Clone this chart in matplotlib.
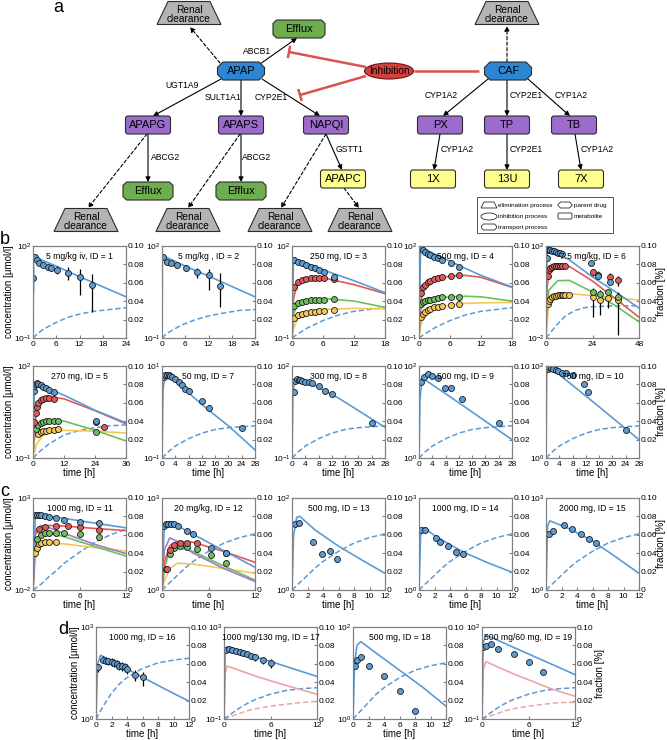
import matplotlib
matplotlib.use("Agg")
import matplotlib.pyplot as plt
import numpy as np
from matplotlib.patches import Polygon, Ellipse, FancyBboxPatch, Rectangle
from matplotlib.ticker import NullLocator

plt.rcParams['font.family'] = ['Liberation Sans', 'DejaVu Sans']
plt.rcParams['mathtext.fontset'] = 'custom'
plt.rcParams['mathtext.rm'] = 'Liberation Sans'
plt.rcParams['mathtext.it'] = 'Liberation Sans:italic'

BLUE = '#5b9bd5'
RED = '#e25858'
GREEN = '#6cbf5b'
YELLOW = '#f6c65a'
PURPLE = '#9e7ccc'
PINK = '#f2a2a8'
SPINE = '#808080'

# ---------------- data ----------------
# ID 1
id1_tm = [0, 0.15, 0.5, 2, 6, 12, 18, 24]
id1_apap_m = [0.1, 50, 44, 36, 22, 10, 4.7, 2.2]
id1_td = [0.1, 0.5, 1.0, 1.6, 2.7, 3.8, 4.6, 6.3, 9.0, 12.2, 15.3]
id1_apap = [9, 44, 35, 28, 24, 20.5, 19, 16.4, 13, 9.7, 5.3]
id1_lo = [3, 40, 31, 25, 21, 17, 15, 12, 8, 2.5, 0.7]
id1_hi = [20, 49, 39, 32, 28, 25, 23, 22, 20, 18, 12]
id1_tf = [0, 1, 2.5, 5, 8.7, 12, 15.7, 20, 24]
id1_frac = [0, 0.004, 0.009, 0.015, 0.022, 0.026, 0.029, 0.031, 0.033]

# ID 2
id2_tm = [0, 0.1, 0.3, 2, 6, 12, 18, 24]
id2_apap_m = [0.1, 25, 48, 38, 22, 10.5, 4.8, 2.2]
id2_td = [0.2, 1.3, 2.4, 3.9, 6.1, 9.1, 12.0, 15.0]
id2_apap = [43, 30, 28, 24, 19, 14, 11.2, 5.0]
id2_lo = [38, 26, 24, 20, 15, 9, 3.7, 1.0]
id2_hi = [48, 34, 32, 28, 24, 19, 18, 13]
id2_frac = [0, 0.004, 0.008, 0.014, 0.020, 0.024, 0.027, 0.030, 0.031]

# ID 3
id3_tm = [0, 0.3, 1, 2, 3.5, 6, 12, 18]
id3_apap_m = [0.1, 38, 34, 30, 25, 16.6, 7.4, 3.0]
id3_g_m = [0.1, 2, 5.5, 8, 9.3, 9.2, 5.5, 2.8]
id3_s_m = [0.1, 0.6, 1.2, 1.5, 1.75, 1.95, 1.6, 1.0]
id3_c_m = [0.1, 0.2, 0.4, 0.55, 0.7, 0.85, 0.92, 0.9]
id3_td = [0.3, 1.1, 2.0, 2.8, 3.6, 4.4, 5.2, 6.1, 8.1]
id3_apap = [35, 30, 27.7, 24, 20.5, 19, 16.5, 14, 9.7]
id3_g = [4.5, 6.5, 8.0, 8.6, 9.0, 9.2, 9.2, 9.0, 8.6]
id3_s = [1.1, 1.35, 1.5, 1.6, 1.7, 1.75, 1.8, 1.8, 1.85]
id3_c = [0.45, 0.55, 0.62, 0.66, 0.7, 0.73, 0.76, 0.78, 0.82]
id3_tf = [0, 1, 3, 6, 9, 12, 15, 18]
id3_frac = [0, 0.004, 0.011, 0.019, 0.025, 0.029, 0.031, 0.033]

# ID 4
id4_tm = [0, 0.3, 1, 3, 6, 9, 12, 18]
id4_apap_m = [0.1, 92, 80, 55, 32, 18.5, 11, 4.6]
id4_g_m = [0.1, 1.5, 4, 8, 10.5, 11, 9.5, 4.5]
id4_s_m = [0.1, 0.8, 1.4, 1.9, 2.2, 2.3, 2.2, 1.6]
id4_c_m = [0.1, 0.25, 0.5, 0.9, 1.2, 1.35, 1.4, 1.45]
id4_td = [0.3, 0.7, 1.2, 1.7, 2.2, 2.9, 3.7, 4.5, 6.2, 7.8]
id4_apap = [85, 75, 63, 56, 50, 43, 40, 35, 28, 20]
id4_g = [3, 4.5, 5.5, 6.5, 7.3, 8.2, 9, 9.6, 10.5, 11]
id4_s = [1.3, 1.5, 1.6, 1.7, 1.8, 1.9, 2.0, 2.1, 2.15, 2.2]
id4_c = [0.5, 0.6, 0.7, 0.8, 0.9, 1.0, 1.05, 1.1, 1.2, 1.25]

# ID 6
id6_tm = [0, 0.5, 1.5, 6, 12, 24, 36, 48]
id6_apap_m = [0.01, 50, 70, 45, 25, 4.5, 1.0, 0.2]
id6_g_m = [0.01, 1.5, 6, 14, 13, 3, 0.5, 0.08]
id6_s_m = [0.01, 0.2, 1.2, 3.1, 3.2, 1.0, 0.25, 0.05]
id6_c_m = [0.01, 0.05, 0.3, 0.7, 0.85, 0.7, 0.55, 0.45]
id6_td = [0.5, 1, 1.5, 2, 3, 4, 5, 6, 7, 8, 23, 27, 33]
id6_apap = [30, 65, 70, 65, 62, 58, 55, 52, 50, 45, 18, 5, 2.7]
id6_tg = [1, 1.5, 2, 3, 4, 5, 6, 7, 8, 10]
id6_g = [5, 9, 11, 12.5, 13.5, 14, 14, 14, 13.5, 13]
id6_tg2 = [24, 27, 33, 37]
id6_g2 = [7.4, 5.5, 4.5, 3.3]
id6_g2_lo = [5, 3.5, 2.5, 1.8]
id6_g2_hi = [10, 8, 7, 5]
id6_ts = [24.5, 28, 32, 37]
id6_s = [1.0, 0.8, 1.0, 0.6]
id6_tc = [1, 1.5, 2, 3, 4, 5, 6, 7, 8, 9, 10, 12]
id6_c = [0.3, 0.4, 0.5, 0.6, 0.65, 0.7, 0.72, 0.75, 0.75, 0.76, 0.76, 0.75]
id6_tc2 = [24.5, 28, 32, 37]
id6_c2 = [0.6, 0.45, 0.55, 0.45]
id6_c2_lo = [0.08, 0.1, 0.2, 0.013]
id6_c2_hi = [1.5, 1.2, 1.2, 1.0]
id6_tf = [0, 2, 5, 10, 15, 20, 24, 36, 48]
id6_frac = [0, 0.005, 0.013, 0.024, 0.030, 0.033, 0.034, 0.035, 0.035]

# ID 5
id5_tm = [0, 0.5, 1.5, 4, 8, 12, 24, 36]
id5_apap_m = [0.1, 20, 28, 22.6, 15.2, 11.2, 3.6, 1.4]
id5_g_m = [0.1, 1, 3.5, 8, 9.5, 8.5, 3.5, 1.3]
id5_s_m = [0.1, 0.4, 1.0, 1.5, 1.7, 1.6, 0.8, 0.36]
id5_c_m = [0.1, 0.15, 0.3, 0.55, 0.75, 0.8, 0.75, 0.65]
id5_td = [0.25, 0.5, 1, 1.5, 2, 3, 4, 5, 6, 8, 24.5]
id5_apap = [15, 22, 26, 27, 26, 24, 21, 19, 17, 14, 1.6]
id5_tg = [0.5, 1, 1.5, 2, 3, 4, 5, 6, 8, 24.5, 27.5]
id5_g = [1.5, 3, 4.5, 6, 7.5, 8.5, 9, 9.2, 8.5, 1.5, 1.0]
id5_ts = [1, 2, 3, 4, 5, 6, 8, 9.5, 24.5]
id5_s = [0.9, 1.2, 1.4, 1.5, 1.6, 1.6, 1.65, 1.65, 0.7]
id5_tc = [2, 3, 4, 5, 6, 8, 9.5]
id5_c = [0.6, 0.7, 0.75, 0.78, 0.8, 0.82, 0.85]
id5_tf = [0, 3, 6, 12, 18, 24, 30, 36]
id5_frac = [0, 0.008, 0.015, 0.025, 0.030, 0.033, 0.035, 0.036]

# ID 7 - 10 (28 h studies)
id7_tm = [0, 0.3, 1, 4, 8, 14, 20, 28]
id7_apap_m = [0.1, 3, 7, 4.6, 2.6, 1.1, 0.5, 0.15]
id7_td = [0.5, 1, 1.5, 2, 2.5, 3, 4, 5, 6, 7, 8, 12, 14, 24]
id7_apap = [5.8, 6.3, 6.4, 6.3, 6.1, 5.8, 5.3, 4.5, 3.8, 3.2, 2.8, 1.7, 1.2, 0.45]
id8_apap_m = [0.1, 15, 38, 30, 20, 9, 3.5, 1.0]
id8_td = [0.5, 1, 1.5, 2, 2.5, 3, 4, 5, 6, 8, 10, 12, 24]
id8_apap = [14, 32, 37, 36, 35, 33, 31, 29, 27, 22, 15, 12, 1.4]
id9_apap_m = [1, 20, 55, 39, 25, 12.6, 6.3, 2.5]
id9_td = [0.6, 1.5, 2.6, 3.9, 5.8, 7.7, 9.6, 12.8, 24]
id9_apap = [45, 57, 67, 60, 55, 33, 33, 19, 5.8]
id10_tm = [0, 0.2, 0.6, 4, 8, 14, 20, 28]
id10_apap_m = [1, 60, 100, 65, 38, 17, 7.5, 2.5]
id10_td = [0.5, 1, 1.5, 2.2, 3, 3.5, 4.8, 6, 8, 11.5, 12.5, 24]
id10_apap = [85, 95, 90, 88, 82, 78, 70, 72, 64, 40, 27, 4.1]
id28_tf = [0, 2, 4, 8, 12, 16, 20, 24, 28]
id28_frac = [0, 0.007, 0.013, 0.021, 0.027, 0.031, 0.033, 0.034, 0.035]

# ID 11
id11_tm = [0, 0.3, 1, 2, 4, 8, 12]
id11_apap_m = [0.01, 140, 120, 104, 78, 43, 24]
id11_g_m = [0.01, 10, 28, 32, 30, 22, 17]
id11_n_m = [0.01, 15, 32, 25, 12, 3, 0.95]
id11_s_m = [0.01, 3, 10, 12, 8, 2.3, 0.7]
id11_c_m = [0.01, 0.5, 2.5, 3.5, 3.2, 2, 1.3]
id11_td = [0.25, 0.5, 0.75, 1, 1.5, 2, 3, 4, 6, 8.5]
id11_apap = [120, 125, 125, 118, 110, 95, 80, 65, 50, 45]
id11_tg = [0.75, 1.5, 3, 4.5, 6, 8.5]
id11_g = [20, 28, 31, 30, 28, 18]
id11_ts = [0.5, 1, 1.5, 2, 3, 4, 6, 8.5]
id11_s = [6, 10, 12, 13, 13, 12, 11, 8]
id11_tc = [0.3, 0.5, 0.75, 1, 1.5, 2, 3]
id11_c = [1, 2, 3, 3.5, 4, 4.2, 4.3]
id12_tf = [0, 1, 2, 3, 4, 6, 8, 10, 12]
id11_frac = [0, 0.006, 0.014, 0.021, 0.029, 0.041, 0.052, 0.060, 0.066]

# ID 12
id12_apap_m = [1, 150, 170, 124, 66, 19, 5.5]
id12_g_m = [1, 8, 28, 38, 36, 18, 8]
id12_n_m = [1, 20, 50, 38, 16, 5, 1.9]
id12_s_m = [1, 5, 20, 25, 18, 6, 2.1]
id12_c_m = [1, 2, 5, 7.5, 7, 5, 3.5]
id12_td = [0.2, 0.5, 0.8, 1.2, 1.6, 2, 3.2, 4, 6.3, 8.3]
id12_apap = [120, 140, 145, 145, 140, 125, 86, 69, 24, 16]
id12_tg = [0.6, 1, 1.5, 2.3, 3.2, 4.5, 8.3]
id12_g = [5, 20, 30, 35, 35, 33, 16]
id12_ts = [0.5, 1, 1.5, 2.3, 3.2, 4.5, 6.3, 8.3]
id12_s = [5, 15, 24, 28, 25, 22, 13.5, 7.4]
id12_frac = [0, 0.008, 0.016, 0.024, 0.031, 0.042, 0.051, 0.057, 0.061]

# ID 13 - 15
id13_tm = [0, 0.2, 0.6, 1, 3, 6, 9, 12]
id13_apap_m = [1, 15, 38, 40, 20, 9, 4.5, 2.3]
id13_td = [0.4, 0.9, 2.7, 3.9, 4.9, 5.8]
id13_apap = [27, 28, 11, 6, 7.2, 4.8]
id14_tm = [0, 0.2, 0.6, 2, 4, 6, 9, 12]
id14_apap_m = [1, 60, 110, 60, 30, 16, 7.5, 3.8]
id14_td = [0.3, 0.8, 2.2, 2.7, 3.7, 4.8, 5.7]
id14_apap = [92, 90, 51, 38, 28, 18, 14.5]
id15_tm = [0, 0.2, 0.5, 1, 3, 6, 9, 12]
id15_apap_m = [1, 120, 180, 160, 100, 40, 12, 3.5]
id15_td = [0.4, 0.9, 2.3, 3.4, 4.5, 5.6, 6.5]
id15_apap = [69, 86, 135, 100, 69, 45, 33]

# ID 16
id16_tm = [0, 0.2, 0.6, 2, 4, 6, 9, 12]
id16_apap_m = [1, 60, 120, 79, 43, 23, 9.2, 3.8]
id16_td = [0.25, 0.9, 1.3, 1.6, 2, 2.3, 2.7, 3, 3.3, 3.7, 4, 5, 6]
id16_apap = [48, 86, 80, 75, 70, 65, 60, 55, 52, 48, 44, 28, 22.6]
id16_lo = [35, 65, 60, 56, 52, 48, 44, 40, 37, 34, 30, 17, 12]
id16_hi = [60, 110, 105, 100, 95, 88, 82, 76, 72, 68, 62, 40, 35]
id16_frac = [0, 0.015, 0.028, 0.038, 0.045, 0.055, 0.061, 0.064, 0.066]

# ID 17
id17_tm = [0, 0.15, 0.4, 2, 4, 6, 9, 12]
id17_apap_m = [0.1, 80, 140, 85, 50, 32, 15, 7.1]
id17_caf_m = [0.1, 10, 20, 13, 7.5, 4.6, 2.3, 1.2]
id17_td = [0.3, 0.6, 1, 1.5, 2, 2.5, 3, 3.5, 4, 5, 6]
id17_apap = [100, 115, 105, 95, 85, 75, 65, 55, 48, 35, 27]
id17_lo = [80, 95, 85, 75, 65, 57, 48, 40, 34, 24, 17]
id17_hi = [125, 140, 130, 120, 110, 98, 87, 76, 68, 52, 42]
id17_frac = [0, 0.006, 0.012, 0.017, 0.021, 0.027, 0.031, 0.033, 0.034]
id17_caf_frac = [0, 0.003, 0.006, 0.009, 0.011, 0.014, 0.016, 0.018, 0.019]

# ID 18
id18_tm = [0, 0.2, 0.5, 1, 3, 6, 9, 12]
id18_apap_m = [1, 15, 40, 48, 27, 11.5, 4.9, 1.9]
id18_td = [0.25, 0.5, 1, 2, 4, 6, 8]
id18_apap = [14.5, 19.5, 22.6, 14.5, 8.8, 4, 1.5]
id18_frac = [0, 0.009, 0.018, 0.027, 0.034, 0.045, 0.053, 0.058, 0.061]

# ID 19
id19_tm = [0, 0.15, 0.5, 2, 4, 6, 9, 12]
id19_apap_m = [0.1, 30, 55, 37.5, 22, 13.2, 6.1, 2.8]
id19_caf_m = [0.1, 4, 7.5, 5, 3, 1.9, 0.95, 0.55]
id19_td = [0.1, 0.5, 1.1, 2.1, 4.1, 6, 7.9]
id19_apap = [22.6, 24.3, 28, 19.5, 13.4, 7.4, 3.5]
id19_frac = [0, 0.006, 0.012, 0.017, 0.021, 0.027, 0.031, 0.033, 0.034]
id19_caf_frac = [0, 0.003, 0.006, 0.009, 0.011, 0.014, 0.016, 0.018, 0.018]

titles = {1: '5 mg/kg iv, ID = 1', 2: '5 mg/kg , ID = 2', 3: '250 mg, ID = 3',
          4: '500 mg, ID = 4', 6: '7.5 mg/kg, ID = 6', 5: '270 mg, ID = 5',
          7: '50 mg, ID = 7', 8: '300 mg, ID = 8', 9: '500 mg, ID = 9',
          10: '750 mg, ID = 10', 11: '1000 mg, ID = 11', 12: '20 mg/kg, ID = 12',
          13: '500 mg, ID = 13', 14: '1000 mg, ID = 14', 15: '2000 mg, ID = 15',
          16: '1000 mg, ID = 16', 17: '1000 mg/130 mg, ID = 17',
          18: '500 mg, ID = 18', 19: '500 mg/60 mg, ID = 19'}

# ---------------- panel table ----------------
P = {}
P[1] = dict(xt=[0, 6, 12, 18, 24], ylim=(0.1, 100),
            lines=[(id1_tm, id1_apap_m, BLUE)],
            points=[(id1_td, id1_apap, BLUE, id1_lo, id1_hi)],
            fracs=[(id1_tf, id1_frac, BLUE)])
P[2] = dict(xt=[0, 6, 12, 18, 24], ylim=(0.1, 100),
            lines=[(id2_tm, id2_apap_m, BLUE)],
            points=[(id2_td, id2_apap, BLUE, id2_lo, id2_hi)],
            fracs=[(id1_tf, id2_frac, BLUE)])
P[3] = dict(xt=[0, 6, 12, 18], ylim=(0.1, 100),
            lines=[(id3_tm, id3_c_m, YELLOW), (id3_tm, id3_s_m, GREEN),
                   (id3_tm, id3_g_m, RED), (id3_tm, id3_apap_m, BLUE)],
            points=[(id3_td, id3_c, YELLOW, None, None), (id3_td, id3_s, GREEN, None, None),
                    (id3_td, id3_g, RED, None, None), (id3_td, id3_apap, BLUE, None, None)],
            fracs=[(id3_tf, id3_frac, BLUE)])
P[4] = dict(xt=[0, 6, 12, 18], ylim=(0.1, 100),
            lines=[(id4_tm, id4_c_m, YELLOW), (id4_tm, id4_s_m, GREEN),
                   (id4_tm, id4_g_m, RED), (id4_tm, id4_apap_m, BLUE)],
            points=[(id4_td, id4_c, YELLOW, None, None), (id4_td, id4_s, GREEN, None, None),
                    (id4_td, id4_g, RED, None, None), (id4_td, id4_apap, BLUE, None, None)],
            fracs=[(id3_tf, id3_frac, BLUE)])
P[6] = dict(xt=[0, 24, 48], ylim=(0.01, 100),
            lines=[(id6_tm, id6_c_m, YELLOW), (id6_tm, id6_s_m, GREEN),
                   (id6_tm, id6_g_m, RED), (id6_tm, id6_apap_m, BLUE)],
            points=[(id6_tc, id6_c, YELLOW, None, None),
                    (id6_tc2, id6_c2, YELLOW, id6_c2_lo, id6_c2_hi),
                    (id6_ts, id6_s, GREEN, None, None),
                    (id6_tg, id6_g, RED, None, None),
                    (id6_tg2, id6_g2, RED, id6_g2_lo, id6_g2_hi),
                    (id6_td, id6_apap, BLUE, None, None)],
            fracs=[(id6_tf, id6_frac, BLUE)])
P[5] = dict(xt=[0, 12, 24, 36], ylim=(0.1, 100),
            lines=[(id5_tm, id5_c_m, YELLOW), (id5_tm, id5_s_m, GREEN),
                   (id5_tm, id5_g_m, RED), (id5_tm, id5_apap_m, BLUE)],
            points=[(id5_tc, id5_c, YELLOW, None, None), (id5_ts, id5_s, GREEN, None, None),
                    (id5_tg, id5_g, RED, None, None), (id5_td, id5_apap, BLUE, None, None)],
            fracs=[(id5_tf, id5_frac, BLUE)])
t28 = [0, 4, 8, 12, 16, 20, 24, 28]
P[7] = dict(xt=t28, ylim=(0.1, 10), lines=[(id7_tm, id7_apap_m, BLUE)],
            points=[(id7_td, id7_apap, BLUE, None, None)],
            fracs=[(id28_tf, id28_frac, BLUE)])
P[8] = dict(xt=t28, ylim=(0.1, 100), lines=[(id7_tm, id8_apap_m, BLUE)],
            points=[(id8_td, id8_apap, BLUE, None, None)],
            fracs=[(id28_tf, id28_frac, BLUE)])
P[9] = dict(xt=t28, ylim=(1, 100), lines=[(id7_tm, id9_apap_m, BLUE)],
            points=[(id9_td, id9_apap, BLUE, None, None)],
            fracs=[(id28_tf, id28_frac, BLUE)])
P[10] = dict(xt=t28, ylim=(1, 100), lines=[(id10_tm, id10_apap_m, BLUE)],
             points=[(id10_td, id10_apap, BLUE, None, None)],
             fracs=[(id28_tf, id28_frac, BLUE)])
P[11] = dict(xt=[0, 6, 12], ylim=(0.01, 1000),
             lines=[(id11_tm, id11_c_m, YELLOW), (id11_tm, id11_s_m, GREEN),
                    (id11_tm, id11_n_m, PURPLE), (id11_tm, id11_g_m, RED),
                    (id11_tm, id11_apap_m, BLUE)],
             points=[(id11_tc, id11_c, YELLOW, None, None), (id11_ts, id11_s, GREEN, None, None),
                     (id11_tg, id11_g, RED, None, None), (id11_td, id11_apap, BLUE, None, None)],
             fracs=[(id12_tf, id11_frac, BLUE)])
P[12] = dict(xt=[0, 6, 12], ylim=(1, 1000),
             lines=[(id11_tm, id12_c_m, YELLOW), (id11_tm, id12_s_m, GREEN),
                    (id11_tm, id12_n_m, PURPLE), (id11_tm, id12_g_m, RED),
                    (id11_tm, id12_apap_m, BLUE)],
             points=[(id12_ts, id12_s, GREEN, None, None), (id12_tg, id12_g, RED, None, None),
                     (id12_td, id12_apap, BLUE, None, None)],
             fracs=[(id12_tf, id12_frac, BLUE)])
t12 = [0, 2, 4, 6, 8, 10, 12]
P[13] = dict(xt=t12, ylim=(1, 100), lines=[(id13_tm, id13_apap_m, BLUE)],
             points=[(id13_td, id13_apap, BLUE, None, None)],
             fracs=[(id12_tf, id12_frac, BLUE)])
P[14] = dict(xt=t12, ylim=(1, 1000), lines=[(id14_tm, id14_apap_m, BLUE)],
             points=[(id14_td, id14_apap, BLUE, None, None)],
             fracs=[(id12_tf, id12_frac, BLUE)])
P[15] = dict(xt=t12, ylim=(1, 1000), lines=[(id15_tm, id15_apap_m, BLUE)],
             points=[(id15_td, id15_apap, BLUE, None, None)],
             fracs=[(id12_tf, id12_frac, BLUE)])
P[16] = dict(xt=t12, ylim=(1, 1000), lines=[(id16_tm, id16_apap_m, BLUE)],
             points=[(id16_td, id16_apap, BLUE, id16_lo, id16_hi)],
             fracs=[(id12_tf, id16_frac, BLUE)])
P[17] = dict(xt=[0, 6, 12], ylim=(0.1, 1000),
             lines=[(id17_tm, id17_caf_m, PINK), (id17_tm, id17_apap_m, BLUE)],
             points=[(id17_td, id17_apap, BLUE, id17_lo, id17_hi)],
             fracs=[(id12_tf, id17_caf_frac, PINK), (id12_tf, id17_frac, BLUE)])
P[18] = dict(xt=t12, ylim=(1, 100), lines=[(id18_tm, id18_apap_m, BLUE)],
             points=[(id18_td, id18_apap, BLUE, None, None)],
             fracs=[(id12_tf, id18_frac, BLUE)])
P[19] = dict(xt=[0, 6, 12], ylim=(0.1, 100),
             lines=[(id19_tm, id19_caf_m, PINK), (id19_tm, id19_apap_m, BLUE)],
             points=[(id19_td, id19_apap, BLUE, None, None)],
             fracs=[(id12_tf, id19_caf_frac, PINK), (id12_tf, id19_frac, BLUE)])

fig = plt.figure(figsize=(6.67, 7.40), dpi=100)
W, H = 667.0, 740.0


def draw_panel(pid, left, bottom, zero, xlabel, llabel, rlabel, rpad=22):
    p = P[pid]
    ax = fig.add_axes([left / W, 1 - bottom / H, 93 / W, 92 / H])
    ax2 = ax.twinx()
    ax.set_zorder(ax2.get_zorder() + 1)
    ax.patch.set_visible(False)
    for t, f, col in p['fracs']:
        ax2.plot(t, f, color=col, lw=1.1, dashes=(3.5, 1.8))
    for t, c, col in p['lines']:
        ax.plot(t, c, color=col, lw=1.2)
    for t, c, col, lo, hi in p['points']:
        if lo is not None:
            yerr = [np.array(c) - np.array(lo), np.array(hi) - np.array(c)]
            ax.errorbar(t, c, yerr=yerr, fmt='none', ecolor='black', elinewidth=0.9, capsize=0)
        ax.plot(t, c, 'o', ms=4.3, mfc=col, mec='#1a1a1a', mew=0.6, ls='none')
    ax.set_yscale('log')
    ax.set_ylim(p['ylim'])
    ax.set_yticks(list(p['ylim']))
    ax.yaxis.set_minor_locator(NullLocator())
    ax.set_xlim(0, p['xt'][-1])
    ax.set_xticks(p['xt'])
    ax.tick_params(axis='both', direction='in', length=2.5, labelsize=6, pad=2,
                   color=SPINE)
    ax.tick_params(axis='y', pad=1)
    ax2.set_ylim(0, 0.1)
    rt = [0, 0.02, 0.04, 0.06, 0.08, 0.10]
    ax2.set_yticks(rt)
    ax2.set_yticklabels(['0' if zero else ''] + ['%.2f' % v for v in rt[1:]])
    ax2.tick_params(axis='y', direction='in', length=2.5, labelsize=6, pad=1.2, color=SPINE)
    for a in (ax, ax2):
        for s in a.spines.values():
            s.set_color(SPINE)
            s.set_linewidth(0.8)
    ax.text(0.5, 0.885, titles[pid], transform=ax.transAxes, ha='center', va='center',
            fontsize=6.2)
    if xlabel:
        ax.set_xlabel('time [h]', fontsize=7, labelpad=0.5)
    if llabel:
        ax.set_ylabel('concentration [\u03bcmol/l]', fontsize=7, labelpad=0)
    if rlabel:
        fig.text((left + 93 + rpad) / W, 1 - (bottom - 46) / H, 'fraction [%]', rotation=90,
                 ha='center', va='center', fontsize=7)
    return ax


cols = [33, 162, 292, 419, 546]
rows = [(338, [1, 2, 3, 4, 6], False, False), (458, [5, 7, 8, 9, 10], False, True),
        (590, [11, 12, 13, 14, 15], True, True)]
for bottom, ids, zero, xl in rows:
    for k, pid in enumerate(ids):
        draw_panel(pid, cols[k], bottom, zero, xl, k == 0, k == 4)
cols_d = [96, 224, 353, 482]
for k, pid in enumerate([16, 17, 18, 19]):
    draw_panel(pid, cols_d[k], 719, True, True, k == 0, k == 3, rpad=25)

# ---------------- panel a : network diagram ----------------
axd = fig.add_axes([0, 1 - 240 / H, 1, 240 / H])
axd.set_xlim(0, W)
axd.set_ylim(240, 0)
axd.axis('off')

node_labels = ['Renal\nclearance', 'Efflux', 'APAP', 'Inhibition', 'CAF', 'Renal\nclearance',
               'APAPG', 'APAPS', 'NAPQI', 'PX', 'TP', 'TB', 'Efflux', 'Efflux',
               'APAPC', '1X', '13U', '7X',
               'Renal\nclearance', 'Renal\nclearance', 'Renal\nclearance', 'Renal\nclearance']
node_kinds = ['elim', 'trans', 'drug', 'inhib', 'drug', 'elim',
              'met', 'met', 'met', 'met', 'met', 'met', 'trans', 'trans',
              'met2', 'met2', 'met2', 'met2', 'elim', 'elim', 'elim', 'elim']
node_xy = [(189, 13), (299, 29), (241, 71), (389, 71), (508, 71), (507, 13),
           (148, 125), (241, 125), (326, 125), (440, 125), (507, 125), (574, 125),
           (148, 191), (241, 191), (343, 179), (433, 179), (507, 179), (581, 179),
           (86, 220), (188, 220), (280, 220), (360, 220)]

EDGE = '#2b2b2b'


def octagon(cx, cy, w, h, c, fc, lw=0.8):
    pts = [(cx - w / 2 + c, cy - h / 2), (cx + w / 2 - c, cy - h / 2), (cx + w / 2, cy - h / 2 + c),
           (cx + w / 2, cy + h / 2 - c), (cx + w / 2 - c, cy + h / 2), (cx - w / 2 + c, cy + h / 2),
           (cx - w / 2, cy + h / 2 - c), (cx - w / 2, cy - h / 2 + c)]
    axd.add_patch(Polygon(pts, closed=True, fc=fc, ec=EDGE, lw=lw, zorder=3))


def trapezoid(cx, cy, wb, wt, h, fc, lw=0.8):
    pts = [(cx - wb / 2, cy + h / 2), (cx + wb / 2, cy + h / 2),
           (cx + wt / 2, cy - h / 2), (cx - wt / 2, cy - h / 2)]
    axd.add_patch(Polygon(pts, closed=True, fc=fc, ec=EDGE, lw=lw, zorder=3))


def rbox(cx, cy, w, h, fc, r=2.5, lw=0.8):
    axd.add_patch(FancyBboxPatch((cx - w / 2, cy - h / 2), w, h,
                                 boxstyle='round,pad=0,rounding_size=%g' % r,
                                 fc=fc, ec=EDGE, lw=lw, zorder=3))


for lab, kind, (x, y) in zip(node_labels, node_kinds, node_xy):
    fs = 8
    if kind == 'elim':
        trapezoid(x, y, 64, 42, 23, '#b4b4b4')
        fs = 7.3
    elif kind == 'trans':
        octagon(x, y, 52 if y < 50 else 50, 18, 3.5, '#6fae4e')
    elif kind == 'drug':
        octagon(x, y, 47, 18, 5.5, '#2d86d2')
    elif kind == 'inhib':
        axd.add_patch(Ellipse((x, y), 49, 16, fc='#d8403a', ec='#6a1010', lw=0.8, zorder=3))
        fs = 7.3
    elif kind == 'met':
        rbox(x, y, 45, 18, '#9b6ccc')
    else:
        rbox(x, y, 45, 18, '#ffff8e')
    axd.text(x, y + (1.5 if kind == 'elim' else 0.5), lab, ha='center', va='center', fontsize=fs,
             linespacing=0.95, zorder=4)

# arrows: (x0, y0, x1, y1, dashed)
edges = [(220, 63, 190, 27, True), (507, 62, 507, 26, True),
         (147, 134, 88, 208, True), (240, 134, 188, 208, True),
         (326, 134, 281, 208, True), (344, 188, 359, 208, True),
         (260, 64, 297, 38, False), (221, 79, 153, 116, False),
         (241, 80, 241, 116, False), (262, 79, 320, 116, False),
         (488, 79, 443, 116, False), (507, 80, 507, 116, False),
         (528, 79, 570, 116, False), (148, 134, 148, 182, False),
         (241, 134, 241, 182, False), (326, 134, 342, 170, False),
         (440, 134, 434, 170, False), (507, 134, 507, 170, False),
         (575, 134, 581, 170, False)]
for x0, y0, x1, y1, dashed in edges:
    axd.annotate('', xy=(x1, y1), xytext=(x0, y0), zorder=2,
                 arrowprops=dict(arrowstyle='-|>', color='black', lw=0.8,
                                 linestyle=(0, (3, 2)) if dashed else '-',
                                 mutation_scale=7, shrinkA=0, shrinkB=0))

# inhibition lines
INH = '#d9534f'
for (x0, y0), (x1, y1), bar in [((366, 67), (289, 52), True), ((366, 76), (300, 95), True),
                                ((414, 71), (479, 71), False)]:
    axd.plot([x0, x1], [y0, y1], color=INH, lw=1.8, zorder=2, solid_capstyle='butt')
    if bar:
        d = np.array([x1 - x0, y1 - y0], dtype=float)
        d /= np.hypot(*d)
        n = np.array([-d[1], d[0]]) * 5
        axd.plot([x1 - n[0], x1 + n[0]], [y1 - n[1], y1 + n[1]], color=INH, lw=1.8, zorder=2)

enzymes = [('ABCB1', 257, 52), ('UGT1A9', 182, 86), ('SULT1A1', 223, 98), ('CYP2E1', 271, 98),
           ('CYP1A2', 441, 96), ('CYP2E1', 526, 96), ('CYP1A2', 571, 96),
           ('ABCG2', 166, 158), ('ABCG2', 257, 158), ('GSTT1', 350, 150),
           ('CYP1A2', 457, 150), ('CYP2E1', 526, 150), ('CYP1A2', 597, 150)]
for lab, x, y in enzymes:
    axd.text(x, y, lab, ha='center', va='center', fontsize=6.2)

# legend box
axd.add_patch(Rectangle((477, 197), 136, 36, fc='white', ec='#555555', lw=0.7, zorder=3))
trapezoid(489, 205, 16, 10, 6, 'white', lw=0.6)
axd.add_patch(Ellipse((489, 216.5), 16, 7, fc='white', ec=EDGE, lw=0.6, zorder=4))
octagon(489, 227, 15, 6, 2, 'white', lw=0.6)
octagon(565, 205, 14, 6, 2.5, 'white', lw=0.6)
rbox(565, 216, 14, 6, 'white', r=1, lw=0.6)
for lab, x, y in [('elimination process', 498, 205), ('inhibition process', 498, 216.5),
                  ('transport process', 498, 227), ('parent drug', 574, 205),
                  ('metabolite', 574, 216)]:
    axd.text(x, y, lab, ha='left', va='center', fontsize=4.6, zorder=5)

# panel letters
fig.text(58 / W, 1 - 8 / H, 'a', fontsize=13, ha='center', va='center')
fig.text(5 / W, 1 - 240 / H, 'b', fontsize=13, ha='center', va='center')
fig.text(5 / W, 1 - 492 / H, 'c', fontsize=13, ha='center', va='center')
fig.text(63 / W, 1 - 630 / H, 'd', fontsize=13, ha='center', va='center')

fig.savefig('out.png', dpi=100)
